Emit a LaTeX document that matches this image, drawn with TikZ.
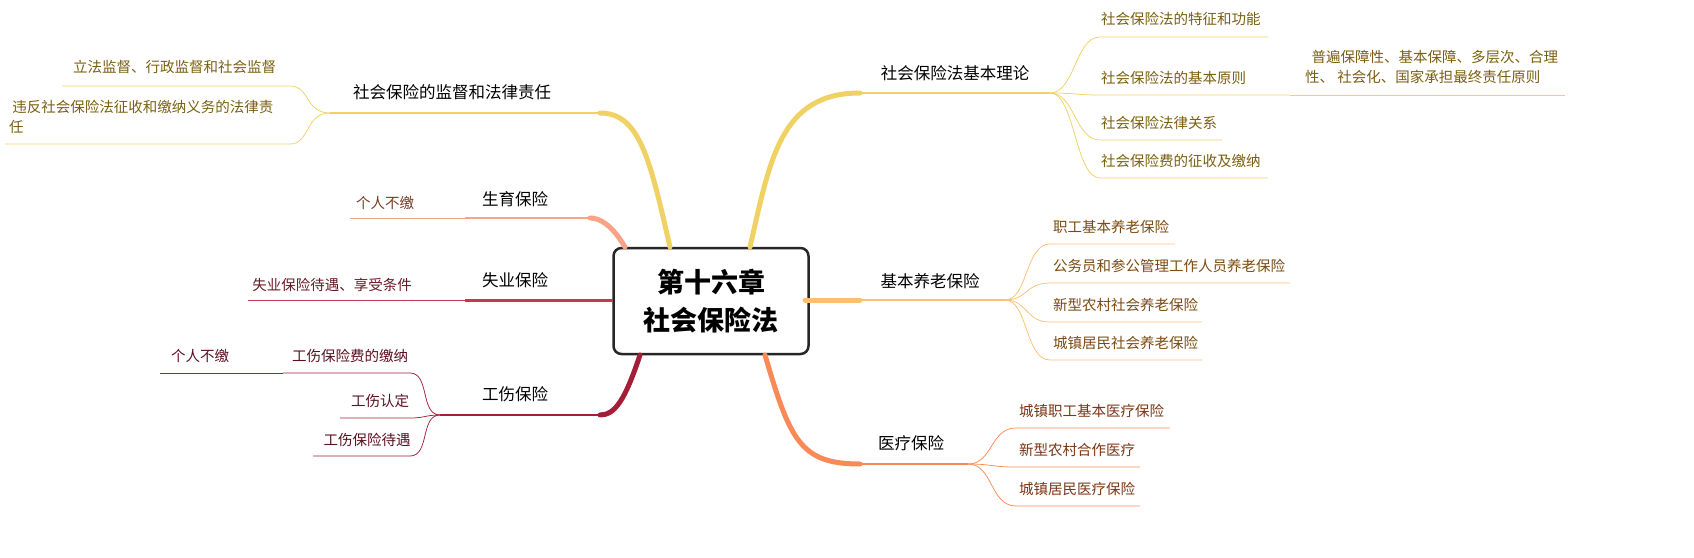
\documentclass[tikz,border=0pt]{standalone}
\usepackage{fontspec}
\setmainfont{Noto Sans CJK SC}
\tikzset{every picture/.style={line width=0.75pt}}
\definecolor{cY}{HTML}{F0D264}\definecolor{tY}{HTML}{7A5F10}
\definecolor{cO}{HTML}{FDC073}\definecolor{tO}{HTML}{7A4A10}
\definecolor{cC}{HTML}{F98A58}\definecolor{tC}{HTML}{7A3515}
\definecolor{cS}{HTML}{F6A386}\definecolor{tS}{HTML}{7A3A25}
\definecolor{cR}{HTML}{C23A4C}\definecolor{tR}{HTML}{6A1A25}
\definecolor{cD}{HTML}{A51E38}\definecolor{tD}{HTML}{5A1020}
\tikzset{
  topic/.style={inner sep=0.75pt,font=\fontsize{16.5}{18}\selectfont},
  leaf/.style={inner sep=0.75pt,font=\fontsize{14.5}{20}\selectfont},
  trunk/.style={line width=5pt,line cap=round},
}
\begin{document}
\begin{tikzpicture}[x=1pt,y=1pt,yscale=-1]
\useasboundingbox (0,0) rectangle (1694,557);
% centre
\node (root) [draw=black!85,line width=2.5pt,rounded corners=8pt,fill=white,minimum width=195pt,minimum height=106pt,align=center,font=\fontsize{27}{38}\selectfont\bfseries] at (711,301) {第十六章\\社会保险法};
% --- right side ---
\node (t1) [topic] at (955,73) {社会保险法基本理论};
\coordinate (t1a) at (860,93); \coordinate (t1b) at (1050,93);
\draw[cY,trunk] (750,247) .. controls (770,160) and (780,93) .. (t1a);
\draw[cY,line width=2pt] (t1a) -- (t1b);
\node (a1) [leaf,text=tY,anchor=west] at (1100,19) {社会保险法的特征和功能};
\node (a2) [leaf,text=tY,anchor=west] at (1100,78) {社会保险法的基本原则};
\node (a3) [leaf,text=tY,anchor=west] at (1100,123) {社会保险法律关系};
\node (a4) [leaf,text=tY,anchor=west] at (1100,161) {社会保险费的征收及缴纳};
\node (a5) [leaf,text=tY,align=left,anchor=west] at (1304,67) {\ \ 普遍保障性、基本保障、多层次、合理\\性、 社会化、国家承担最终责任原则};
\foreach \y/\e in {37/1268,95/1290,140/1222,178/1268}
  \draw[cY] (t1b) .. controls (1075,93) and (1075,\y) .. (1100,\y) -- (\e,\y);
\draw[cY] (1290,95) -- (1565,95);
%
\node (t2) [topic] at (930,281) {基本养老保险};
\coordinate (t2a) at (860,300); \coordinate (t2b) at (1005,300);
\draw[cO,trunk] (805,300) -- (t2a);
\draw[cO,line width=2pt] (t2a) -- (t2b);
\node [leaf,text=tO,anchor=west] at (1052,227) {职工基本养老保险};
\node [leaf,text=tO,anchor=west] at (1052,266) {公务员和参公管理工作人员养老保险};
\node [leaf,text=tO,anchor=west] at (1052,305) {新型农村社会养老保险};
\node [leaf,text=tO,anchor=west] at (1052,343) {城镇居民社会养老保险};
\foreach \y/\e in {244/1175,283/1290,322/1202,360/1202}
  \draw[cO] (t2b) .. controls (1028,300) and (1025,\y) .. (1050,\y) -- (\e,\y);
%
\node (t3) [topic] at (911,443) {医疗保险};
\coordinate (t3a) at (860,464); \coordinate (t3b) at (968,464);
\draw[cC,trunk] (765,355) .. controls (790,440) and (800,464) .. (t3a);
\draw[cC,line width=2pt] (t3a) -- (t3b);
\node [leaf,text=tC,anchor=west] at (1018,411) {城镇职工基本医疗保险};
\node [leaf,text=tC,anchor=west] at (1018,450) {新型农村合作医疗};
\node [leaf,text=tC,anchor=west] at (1018,489) {城镇居民医疗保险};
\foreach \y/\e in {428/1170,467/1140,506/1140}
  \draw[cC] (t3b) .. controls (993,464) and (990,\y) .. (1016,\y) -- (\e,\y);
% --- left side ---
\node (t4) [topic] at (452,92) {社会保险的监督和法律责任};
\coordinate (t4a) at (600,113); \coordinate (t4b) at (330,113);
\draw[cY,trunk] (670,247) .. controls (650,160) and (640,113) .. (t4a);
\draw[cY,line width=2pt] (t4a) -- (t4b);
\node [leaf,text=tY,anchor=west] at (72,67) {立法监督、行政监督和社会监督};
\node [leaf,text=tY,align=left,anchor=west] at (8,117) {\ 违反社会保险法征收和缴纳义务的法律责\\任};
\foreach \y/\s in {86/62,144/5}
  \draw[cY] (t4b) .. controls (305,113) and (310,\y) .. (290,\y) -- (\s,\y);
%
\node (t5) [topic] at (515,199) {生育保险};
\coordinate (t5a) at (590,218); \coordinate (t5b) at (465,218);
\draw[cS,trunk] (625,247) .. controls (612,225) and (600,218) .. (t5a);
\draw[cS,line width=2pt] (t5a) -- (t5b);
\node [leaf,text=tS] at (385,203) {个人不缴};
\draw[cS] (t5b) -- (350,218);
%
\node (t6) [topic] at (515,280) {失业保险};
\coordinate (t6a) at (613,300); \coordinate (t6b) at (465,300);
\draw[cR,line width=3pt] (t6a) -- (t6b);
\node [leaf,text=tR] at (332,285) {失业保险待遇、享受条件};
\draw[cR] (t6b) -- (248,300);
%
\node (t7) [topic] at (515,394) {工伤保险};
\coordinate (t7a) at (600,415); \coordinate (t7b) at (440,415);
\draw[cD,trunk] (640,355) .. controls (625,400) and (615,415) .. (t7a);
\draw[cD,line width=2pt] (t7a) -- (t7b);
\node [leaf,text=tD] at (350,356) {工伤保险费的缴纳};
\node [leaf,text=tD] at (380,401) {工伤认定};
\node [leaf,text=tD] at (367,440) {工伤保险待遇};
\node [leaf,text=tD] at (200,356) {个人不缴};
\draw[cD] (t7b) .. controls (420,415) and (430,373) .. (410,373) -- (283,373);
\draw[cD] (t7b) .. controls (425,415) and (425,418) .. (410,418) -- (340,418);
\draw[cD] (t7b) .. controls (420,415) and (430,456) .. (410,456) -- (313,456);
\draw[cD] (283,373) -- (160,373);
\end{tikzpicture}
\end{document}
